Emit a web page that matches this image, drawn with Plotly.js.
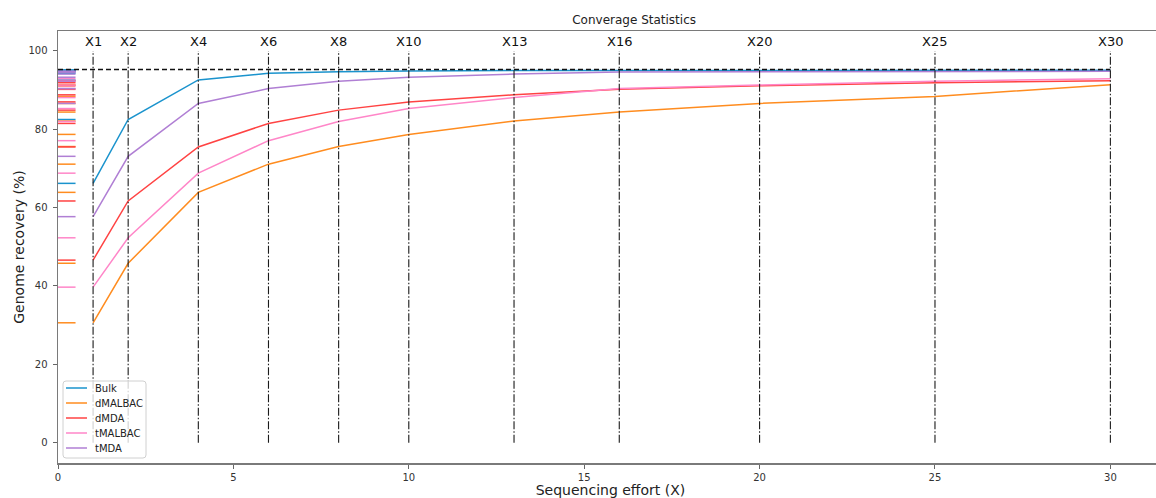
<!DOCTYPE html>
<html>
<head>
<meta charset="utf-8">
<script src="https://cdn.plot.ly/plotly-3.0.1.min.js"></script>
<style>
html,body{margin:0;padding:0;overflow:hidden;background:#fff;width:1156px;height:498px;}
#chart{width:1170px;height:498px;}
</style>
</head>
<body>
<div id="chart"></div>
<script>
// ---- data ----
const efforts = [1, 2, 4, 6, 8, 10, 13, 16, 20, 25, 30];
const markLabels = ["X1", "X2", "X4", "X6", "X8", "X10", "X13", "X16", "X20", "X25", "X30"];
const seriesNames = ["Bulk", "dMALBAC", "dMDA", "tMALBAC", "tMDA"];
const bulk    = [66.2, 82.5, 92.6, 94.3, 94.7, 94.9, 95.0, 95.0, 95.0, 95.1, 95.1];
const dMALBAC = [30.6, 45.8, 63.9, 71.1, 75.6, 78.7, 82.1, 84.4, 86.6, 88.4, 91.4];
const dMDA    = [46.6, 61.7, 75.5, 81.5, 84.9, 87.0, 88.8, 90.2, 91.1, 91.9, 92.4];
const tMALBAC = [39.7, 52.3, 68.8, 77.1, 82.0, 85.3, 88.1, 90.4, 91.3, 92.3, 92.9];
const tMDA    = [57.7, 73.1, 86.6, 90.4, 92.3, 93.3, 94.1, 94.6, 94.7, 94.8, 94.8];
const refLevel = 95.3;
const yTicks = [0, 20, 40, 60, 80, 100];
const xTicks = [0, 5, 10, 15, 20, 25, 30];

// ---- styles ----
const seriesValues = [bulk, dMALBAC, dMDA, tMALBAC, tMDA];
const colors = ["#1a93cd", "#ff8c1f", "#ff4343", "#ff86c8", "#b07fd4"];
const FONT = "DejaVu Sans, sans-serif";

// plot area geometry (px)
const W = 1170, H = 498, ML = 58, MR = 7, MT = 31, MB = 35;
const PW = W - ML - MR, PH = H - MT - MB;
const px2x = p => (p - ML) / PW;
const px2y = p => (H - MB - p) / PH;

const traces = [];

// short level markers at the left
seriesValues.forEach((vals, i) => {
  const xs = [], ys = [];
  vals.forEach(v => { xs.push(0, 0.5, null); ys.push(v, v, null); });
  traces.push({x: xs, y: ys, mode: "lines", line: {color: colors[i], width: 1.5},
    showlegend: false, hoverinfo: "skip"});
});

// series curves
seriesValues.forEach((vals, i) => {
  traces.push({x: efforts, y: vals, name: seriesNames[i], mode: "lines",
    line: {color: colors[i], width: 1.5}, showlegend: false});
});

// reference level dashed line
traces.push({x: [0, efforts[efforts.length - 1]], y: [refLevel, refLevel], mode: "lines",
  line: {color: "#111", width: 1.5, dash: "5px,3px"}, showlegend: false, hoverinfo: "skip"});

// vertical dash-dot lines
(function () {
  const xs = [], ys = [];
  efforts.forEach(e => { xs.push(e, e, null); ys.push(0, 100, null); });
  traces.push({x: xs, y: ys, mode: "lines",
    line: {color: "#1a1a1a", width: 1.1, dash: "8px,2px,1.5px,2px"},
    showlegend: false, hoverinfo: "skip"});
})();

const annotations = efforts.map((e, i) => ({
  x: e, y: 100, xref: "x", yref: "y", text: markLabels[i], showarrow: false,
  xanchor: "center", yanchor: "bottom", font: {family: FONT, size: 13, color: "#111"}
}));

// custom legend
const shapes = [];
const lx0 = 63, lx1 = 146, ly0 = 381, ly1 = 458, r = 3;
const X = px2x, Y = px2y;
shapes.push({
  type: "path", xref: "paper", yref: "paper", layer: "above",
  path: `M ${X(lx0 + r)} ${Y(ly0)} L ${X(lx1 - r)} ${Y(ly0)} Q ${X(lx1)} ${Y(ly0)} ${X(lx1)} ${Y(ly0 + r)} ` +
        `L ${X(lx1)} ${Y(ly1 - r)} Q ${X(lx1)} ${Y(ly1)} ${X(lx1 - r)} ${Y(ly1)} ` +
        `L ${X(lx0 + r)} ${Y(ly1)} Q ${X(lx0)} ${Y(ly1)} ${X(lx0)} ${Y(ly1 - r)} ` +
        `L ${X(lx0)} ${Y(ly0 + r)} Q ${X(lx0)} ${Y(ly0)} ${X(lx0 + r)} ${Y(ly0)} Z`,
  fillcolor: "rgba(255,255,255,0.8)", line: {color: "#d0d0d0", width: 1}
});
seriesNames.forEach((n, i) => {
  const yy = 388 + i * 15;
  shapes.push({type: "line", xref: "paper", yref: "paper", layer: "above",
    x0: X(66), x1: X(87), y0: Y(yy), y1: Y(yy), line: {color: colors[i], width: 1.5}});
  annotations.push({x: X(93), y: Y(yy), xref: "paper", yref: "paper", text: n, showarrow: false,
    xanchor: "left", yanchor: "middle", font: {family: FONT, size: 10, color: "#222"}});
});

const layout = {
  width: W, height: H,
  margin: {l: ML, r: MR, t: MT, b: MB, pad: 0},
  paper_bgcolor: "#fff", plot_bgcolor: "#fff",
  font: {family: FONT, size: 10, color: "#333"},
  title: {text: "Converage Statistics", x: 610 / W, xref: "paper", xanchor: "center",
    y: 1 - 20 / H, yref: "container", yanchor: "middle",
    font: {family: FONT, size: 12, color: "#222"}},
  xaxis: {range: [0, 31.5], tickvals: xTicks, ticks: "outside", ticklen: 4, tickwidth: 1,
    tickcolor: "#666", showgrid: false, zeroline: false, showline: true, mirror: true,
    linecolor: "#7a7a7a", linewidth: 1.5, tickfont: {family: FONT, size: 10, color: "#333"},
    title: {text: "Sequencing effort (X)", standoff: 4, font: {family: FONT, size: 14, color: "#222"}}},
  yaxis: {range: [-5.2, 105.1], tickvals: yTicks, ticks: "outside", ticklen: 4, tickwidth: 1,
    tickcolor: "#666", showgrid: false, zeroline: false, showline: true, mirror: true,
    linecolor: "#7a7a7a", linewidth: 1.5, tickfont: {family: FONT, size: 10, color: "#333"},
    ticklabelstandoff: 3,
    title: {text: "Genome recovery (%)", standoff: 0, font: {family: FONT, size: 14, color: "#222"}}},
  showlegend: false,
  annotations: annotations,
  shapes: shapes
};

Plotly.newPlot("chart", traces, layout, {displayModeBar: false, staticPlot: true});
</script>
</body>
</html>
